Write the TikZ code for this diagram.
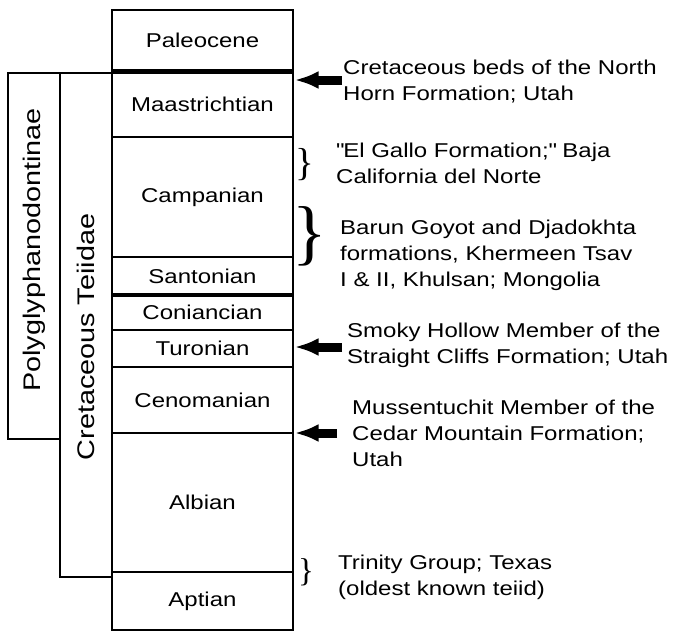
\documentclass[tikz,border=0pt]{standalone}
\usepackage{fontspec}
\setsansfont{Liberation Sans}[FakeStretch=1.2]
\newfontfamily\bracefont{Liberation Serif}
\usetikzlibrary{arrows.meta, positioning}
\tikzset{
  stage/.style={draw, line width=2pt, outer sep=0pt, inner sep=0pt, minimum width=181pt, font=\sffamily\fontsize{20}{26}\selectfont},
  colbox/.style={draw, line width=2pt, outer sep=0pt, minimum width=52pt},
  collabel/.style={rotate=90, inner sep=0pt, font=\sffamily\fontsize{24}{28}\selectfont},
  bound/.style={line width=5pt},
  note/.style={anchor=north west, inner sep=0pt, align=left, font=\sffamily\fontsize{20}{26}\selectfont},
  brace/.style={inner sep=0pt},
  pointer/.style={-{Latex[length=24pt, width=18pt]}, line width=9pt, shorten >=1.5pt}
}
\begin{document}
\begin{tikzpicture}[x=1pt, y=-1pt]
\useasboundingbox (0,0) rectangle (673,633);

\node[stage, minimum height=61pt, anchor=north west] (paleo) at (112,10) {Paleocene};
\node[stage, minimum height=66pt, below=0pt of paleo] (maas) {Maastrichtian};
\node[stage, minimum height=120pt, below=0pt of maas] (camp) {Campanian};
\node[stage, minimum height=38pt, below=0pt of camp] (sant) {Santonian};
\node[stage, minimum height=35pt, below=0pt of sant] (coni) {Coniancian};
\node[stage, minimum height=37pt, below=0pt of coni] (turo) {Turonian};
\node[stage, minimum height=66pt, below=0pt of turo] (ceno) {Cenomanian};
\node[stage, minimum height=139pt, below=0pt of ceno] (albi) {Albian};
\node[stage, minimum height=58pt, below=0pt of albi] (apti) {Aptian};

\draw[bound] (paleo.south west) -- (paleo.south east);
\draw[bound, line width=4pt] (sant.south west) -- (sant.south east);

\node[colbox, minimum height=504pt, anchor=north east] (teiid) at (112,73) {};
\node[colbox, minimum height=366pt, anchor=north east] (poly) at (teiid.north west) {};
\node[collabel] (teiidlabel) at ([yshift=-12pt]teiid.center) {Cretaceous Teiidae};
\node[collabel] (polylabel) at ([yshift=6pt]poly.center) {Polyglyphanodontinae};

\node[note] (northhorn) at (343,60) {Cretaceous beds of the North\\Horn Formation; Utah};
\node[note] (elgallo) at (336,143) {\textquotedbl El Gallo Formation;\textquotedbl{} Baja\\California del Norte};
\node[note] (barun) at (340,220) {Barun Goyot and Djadokhta\\formations, Khermeen Tsav\\I \& II, Khulsan; Mongolia};
\node[note] (smoky) at (347,323) {Smoky Hollow Member of the\\Straight Cliffs Formation; Utah};
\node[note] (muss) at (352,400) {Mussentuchit Member of the\\Cedar Mountain Formation;\\Utah};
\node[note] (trinity) at (338,555) {Trinity Group; Texas\\(oldest known teiid)};

\node[brace, font=\bracefont\fontsize{39}{39}\selectfont] (gallobrace) at (305,165) {\}};
\node[brace, font=\bracefont\fontsize{72}{72}\selectfont] (barunbrace) at (310,236) {\}};
\node[brace, font=\bracefont\fontsize{33}{33}\selectfont] (trinitybrace) at (306,572) {\}};

\coordinate (tailA) at (342,80);
\coordinate (tailB) at (342,347);
\coordinate (tailC) at (337,433);
\draw[pointer] (tailA) -- (maas.east |- tailA);
\draw[pointer] (tailB) -- (turo.east |- tailB);
\draw[pointer] (tailC) -- (albi.north east);
\end{tikzpicture}
\end{document}
